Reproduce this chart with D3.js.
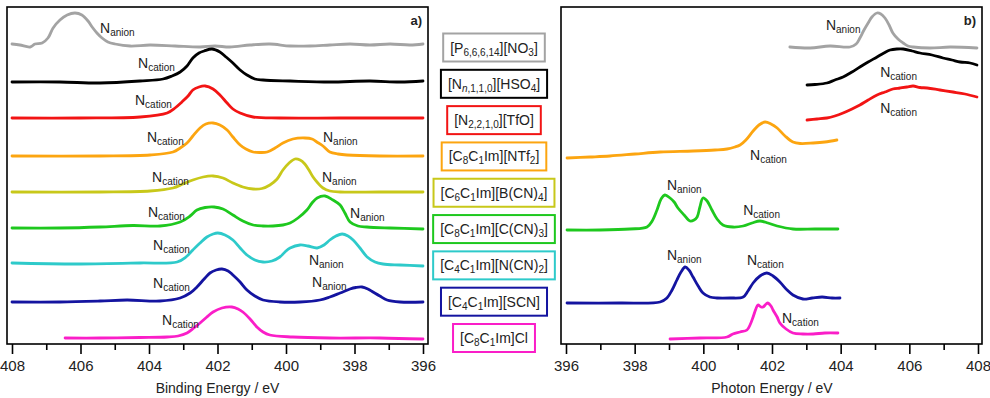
<!DOCTYPE html>
<html>
<head>
<meta charset="utf-8">
<title>N 1s XPS and NEXAFS</title>
<script src="https://d3js.org/d3.v7.min.js"></script>
<style>
  html, body { margin: 0; padding: 0; background: #fff; }
  svg { display: block; font-family: "Liberation Sans", Arial, sans-serif; }
</style>
</head>
<body>
<div id="chart"></div>
<script>
// ionic liquids, top to bottom (same order in both panels)
const liquids = [
  "[P_{6,6,6,14}][NO_{3}]",
  "[N_{<i>n</i>,1,1,0}][HSO_{4}]",
  "[N_{2,2,1,0}][TfO]",
  "[C_{8}C_{1}Im][NTf_{2}]",
  "[C_{6}C_{1}Im][B(CN)_{4}]",
  "[C_{8}C_{1}Im][C(CN)_{3}]",
  "[C_{4}C_{1}Im][N(CN)_{2}]",
  "[C_{4}C_{1}Im][SCN]",
  "[C_{8}C_{1}Im]Cl"
];
const colors = ["#a3a3a3", "#000000", "#f21414", "#fca510", "#c8c81a", "#1ec81e", "#2ecaca", "#1414a0", "#fa1ec8"];

// a) XPS, [binding energy / eV, offset intensity]
const xpsNO3 = [[408,300],[407.77,299],[407.47,297],[407.33,300],[407.12,301],[406.95,306],[406.8,316],[406.6,324],[406.39,329],[406.16,331],[405.96,329],[405.78,323],[405.66,317],[405.52,311],[405.37,306],[405.2,302],[404.99,300],[404.55,298],[403.97,299],[403.24,298],[402.51,297],[402.07,298],[401.64,297],[401.05,299],[400.47,300],[399.88,298],[399.3,298],[398.72,299],[398.13,300],[397.55,299],[396.96,300],[396.38,299],[396,300]];
const xpsHSO4 = [[408,262],[406.6,262],[405.43,261],[404.26,263],[403.59,265],[403.33,268],[403.09,272],[402.89,278],[402.72,286],[402.54,291],[402.39,293],[402.16,295],[401.93,292],[401.75,287],[401.55,281],[401.34,274],[401.14,269],[400.91,265],[400.67,264],[399.88,263],[398.72,262],[397.55,263],[396.67,262],[396,263]];
const xpsTfO = [[408,226],[406.01,226],[404.26,227],[403.47,231],[403.24,236],[403.04,242],[402.86,248],[402.72,254],[402.54,257],[402.36,258],[402.13,255],[401.93,249],[401.72,241],[401.55,235],[401.34,231],[400.96,227],[400.18,226],[398.42,226],[396,226]];
const xpsNTf2 = [[408,188],[405.43,188],[403.97,189],[403.3,192],[403.09,196],[402.89,201],[402.72,208],[402.51,216],[402.34,220],[402.13,221],[401.93,219],[401.72,214],[401.55,207],[401.34,199],[401.17,195],[400.96,192],[400.76,191.5],[400.55,192],[400.32,196],[400.09,201],[399.8,205],[399.45,206],[399.24,205],[399.1,202],[398.92,198],[398.72,192],[398.48,190],[398.22,189],[397.26,188],[396,188]];
const xpsBCN4 = [[408,152],[405.43,152],[403.97,153],[403.3,156],[403.01,160],[402.72,164],[402.42,167],[402.13,168],[401.84,166],[401.55,161],[401.26,157],[400.96,155],[400.7,155.5],[400.47,159],[400.26,165],[400.09,174],[399.91,181],[399.74,185],[399.59,184],[399.45,180],[399.33,174],[399.21,167],[399.07,161],[398.92,156],[398.72,153],[398.42,152],[397.26,152],[396,152]];
const xpsCCN3 = [[408,116],[406.6,116],[405.43,117],[404.47,118.5],[403.68,118],[403.09,122],[402.8,128],[402.6,134],[402.36,136.5],[402.1,137],[401.84,135],[401.55,129],[401.26,123],[400.96,119],[400.67,118],[400.38,118],[400.09,119],[399.88,121],[399.65,126],[399.39,134],[399.24,141],[399.09,146],[398.86,148],[398.63,144],[398.42,139],[398.28,131],[398.13,122],[397.9,118],[397.64,117],[396.96,116],[396,115]];
const xpsNCN2 = [[408,81],[406.01,80],[404.26,81],[403.18,82],[402.92,87],[402.72,94],[402.51,101],[402.31,107],[402.13,110],[401.99,111],[401.78,109],[401.55,104],[401.34,96],[401.14,89],[400.91,84],[400.67,82],[400.41,83],[400.18,87],[400.03,92],[399.88,96],[399.59,99],[399.36,98],[399.09,96],[398.89,99],[398.72,104],[398.54,108],[398.36,110],[398.19,108],[398.04,104],[397.84,96],[397.63,87],[397.4,82],[397.17,80],[396.67,79],[396,78]];
const xpsSCN = [[408,42],[406.6,42],[405.43,43],[404.64,44],[403.68,43],[403.09,46],[402.8,51],[402.6,57],[402.39,65],[402.22,71],[402.04,74],[401.87,75],[401.69,73],[401.55,69],[401.34,62],[401.14,54],[400.91,48],[400.67,44],[400.18,42],[399.59,42],[399.01,44],[398.72,47],[398.42,51],[398.13,55],[397.96,56.5],[397.78,57],[397.61,55],[397.46,52],[397.26,48],[397.05,44],[396.67,42],[396,42]];
const xpsCl = [[406.45,6],[405.43,6],[404.26,6.5],[403.47,7],[403.15,8],[402.89,11],[402.69,16],[402.51,21],[402.31,27],[402.13,32],[401.87,36],[401.58,37],[401.4,35],[401.26,32],[401.05,25],[400.85,17],[400.67,12],[400.47,9],[399.8,7],[398.72,6],[397.26,6],[396,5]];

// b) NEXAFS, [photon energy / eV, offset intensity]
const nexNO3 = [[402.52,297],[403.11,296],[403.69,298],[404.27,297],[404.45,300],[404.56,306],[404.68,314],[404.8,321],[404.91,327],[405.06,331],[405.17,330],[405.29,326],[405.41,319],[405.52,311],[405.67,305],[405.82,301],[405.96,298],[406.11,297],[406.6,296],[407.19,297],[407.97,296]];
const nexHSO4 = [[403.02,259],[403.25,259.5],[403.6,261],[403.83,264],[404.07,267],[404.33,272],[404.56,277],[404.8,282],[405.06,287],[405.26,291],[405.44,294],[405.64,295],[405.82,295],[406.08,293],[406.31,291],[406.66,289],[406.98,286],[407.24,284],[407.48,282],[407.77,281],[407.97,279]];
const nexTfO = [[403.02,224],[403.31,225],[403.6,226],[403.83,228],[404.07,231],[404.33,235],[404.56,239],[404.8,244],[405.06,249],[405.29,252],[405.52,255],[405.73,256],[405.93,257],[406.11,258],[406.31,256.5],[406.52,256],[406.89,254],[407.27,252],[407.62,250],[407.97,247]];
const nexNTf2 = [[396.03,186],[396.7,187],[397.28,188],[398.01,190],[398.74,192],[399.7,193],[400.34,194],[400.69,195],[400.92,197],[401.07,199],[401.24,204],[401.45,213],[401.62,219],[401.8,222],[401.97,220],[402.15,216],[402.38,208],[402.61,202],[402.82,200.5],[403.2,201],[403.54,202],[403.89,204]];
const nexCCN3 = [[396.03,114],[396.99,114],[397.86,115],[398.36,117],[398.51,123],[398.65,134],[398.77,145],[398.88,149],[399.03,146],[399.15,142],[399.26,136],[399.44,129],[399.61,123],[399.73,124],[399.82,127],[399.9,137],[399.99,146],[400.11,143],[400.25,134],[400.4,125],[400.57,119],[400.86,117],[401.16,118],[401.42,121],[401.65,123],[401.88,121],[402.15,118],[402.61,115],[403.25,115],[403.92,115]];
const nexSCN = [[396.03,41],[397.57,41],[398.74,42],[398.94,46],[399.09,54],[399.23,64],[399.35,72],[399.47,77],[399.58,74],[399.7,67],[399.85,58],[399.99,51],[400.19,47],[400.4,46],[400.78,46],[401.16,47],[401.3,53],[401.45,61],[401.65,68],[401.85,71],[402.03,68],[402.23,62],[402.44,54],[402.61,49],[402.9,45],[403.17,46],[403.46,47],[403.75,46],[403.98,46]];
const nexCl = [[399.03,5],[399.9,6],[400.69,7],[400.86,10],[401.07,12],[401.27,14],[401.36,19],[401.45,27],[401.53,35],[401.59,39],[401.68,37],[401.74,37],[401.83,40],[401.88,41],[401.97,38],[402.03,34],[402.15,27],[402.23,21],[402.41,15],[402.61,11],[402.9,10],[403.2,10],[403.54,11],[403.92,11]];

const xpsSeries = [xpsNO3, xpsHSO4, xpsTfO, xpsNTf2, xpsBCN4, xpsCCN3, xpsNCN2, xpsSCN, xpsCl];
const nexSeries = [nexNO3, nexHSO4, nexTfO, nexNTf2, null, nexCCN3, null, nexSCN, nexCl];

// peak labels: [energy, intensity, subscript]
const xpsLabels = [[405.43,311,"anion"],[404.32,276,"cation"],[404.41,239,"cation"],[404.06,202,"cation"],[398.92,202,"anion"],[403.91,162,"cation"],[398.95,162,"anion"],[404.03,127,"cation"],[398.13,126,"anion"],[403.88,94,"cation"],[399.33,79,"anion"],[403.88,56,"cation"],[399.24,57,"anion"],[403.62,19,"cation"]];
const nexLabels = [[403.57,314,"anion"],[405.15,267,"cation"],[405.15,231,"cation"],[401.36,184,"cation"],[398.94,154,"anion"],[401.16,129,"cation"],[398.94,84,"anion"],[401.27,79,"cation"],[402.29,21,"cation"]];

const majorTicks = [396, 398, 400, 402, 404, 406, 408];
const minorTicks = [397, 399, 401, 403, 405, 407];

const width = 990, height = 398;
const svg = d3.select("#chart").append("svg")
  .attr("width", width)
  .attr("height", height);

const y = d3.scaleLinear().domain([0, 337]).range([344, 7]);

// add a string with _{...} subscripts as tspans
function richText(text, str, size, subSize, shift) {
  let down = false;
  str.split(/(_\{[^}]*\})/).filter(s => s.length).forEach(p => {
    if (p.startsWith("_{")) {
      p.slice(2, -1).split(/(<i>[^<]*<\/i>)/).filter(s => s.length).forEach(q => {
        const it = q.startsWith("<i>");
        const t = text.append("tspan").attr("font-size", subSize).text(it ? q.slice(3, -4) : q);
        if (it) t.attr("font-style", "italic");
        if (!down) { t.attr("dy", shift); down = true; }
      });
    } else {
      const t = text.append("tspan").attr("font-size", size).text(p);
      if (down) { t.attr("dy", -shift); down = false; }
    }
  });
}

function panel(x, frameX0, frameX1, series, labels, title, tag) {
  const g = svg.append("g");

  // bottom axis: major + minor ticks
  const major = g.append("g")
    .attr("transform", `translate(0,${y.range()[0]})`)
    .call(d3.axisBottom(x).tickValues(majorTicks).tickSize(10).tickPadding(6).tickFormat(d3.format("d")));
  const minor = g.append("g")
    .attr("transform", `translate(0,${y.range()[0]})`)
    .call(d3.axisBottom(x).tickValues(minorTicks).tickSize(6).tickFormat(""));
  [major, minor].forEach(a => {
    a.select(".domain").remove();
    a.selectAll("line").attr("stroke", "#000").attr("stroke-width", 1.6);
  });
  major.selectAll("text").attr("font-size", 15).attr("fill", "#222")
    .attr("font-family", "'Liberation Sans', Arial, sans-serif");

  g.append("text")
    .attr("x", (x.range()[0] + x.range()[1]) / 2)
    .attr("y", 393)
    .attr("text-anchor", "middle")
    .attr("font-size", 14)
    .attr("fill", "#222")
    .text(title);

  // frame
  g.append("rect")
    .attr("x", frameX0).attr("y", y.range()[1])
    .attr("width", frameX1 - frameX0)
    .attr("height", y.range()[0] - y.range()[1])
    .attr("fill", "none").attr("stroke", "#000").attr("stroke-width", 1.6);

  const line = d3.line()
    .x(d => x(d[0]))
    .y(d => y(d[1]))
    .curve(d3.curveCatmullRom.alpha(0.5));

  series.forEach((s, i) => {
    if (!s) return;
    const pts = s.slice().sort((a, b) => a[0] - b[0]);
    g.append("path")
      .datum(pts)
      .attr("d", line)
      .attr("fill", "none")
      .attr("stroke", colors[i])
      .attr("stroke-width", 2.8)
      .attr("stroke-linejoin", "round")
      .attr("stroke-linecap", "round");
  });

  labels.forEach(l => {
    const t = g.append("text")
      .attr("x", x(l[0]))
      .attr("y", y(l[1]))
      .attr("fill", "#222");
    richText(t, "N_{" + l[2] + "}", 14, 10, 3);
  });

  g.append("text")
    .attr("x", frameX1 - 6)
    .attr("y", 25)
    .attr("text-anchor", "end")
    .attr("font-size", 13)
    .attr("font-weight", "bold")
    .attr("fill", "#222")
    .text(tag);
}

const xA = d3.scaleLinear().domain([408, 396]).range([12, 423]);
const xB = d3.scaleLinear().domain([396, 408]).range([566, 978]);

panel(xA, 7, 428, xpsSeries, xpsLabels, "Binding Energy / eV", "a)");
panel(xB, 561, 982, nexSeries, nexLabels, "Photon Energy / eV", "b)");

// legend boxes between the panels
const ly = d3.scalePoint().domain(liquids).range([47.5, 338]);
const legendX = 494;
liquids.forEach((name, i) => {
  const lg = svg.append("g");
  const t = lg.append("text")
    .attr("x", legendX)
    .attr("y", ly(name) + 5)
    .attr("text-anchor", "middle")
    .attr("fill", "#222");
  richText(t, name, 14, 10, 3);
  const bb = t.node().getBBox();
  lg.insert("rect", "text")
    .attr("x", bb.x - 7)
    .attr("y", ly(name) - 14)
    .attr("width", bb.width + 14)
    .attr("height", 28)
    .attr("fill", "#fff")
    .attr("stroke", colors[i])
    .attr("stroke-width", 2);
});
</script>
</body>
</html>
